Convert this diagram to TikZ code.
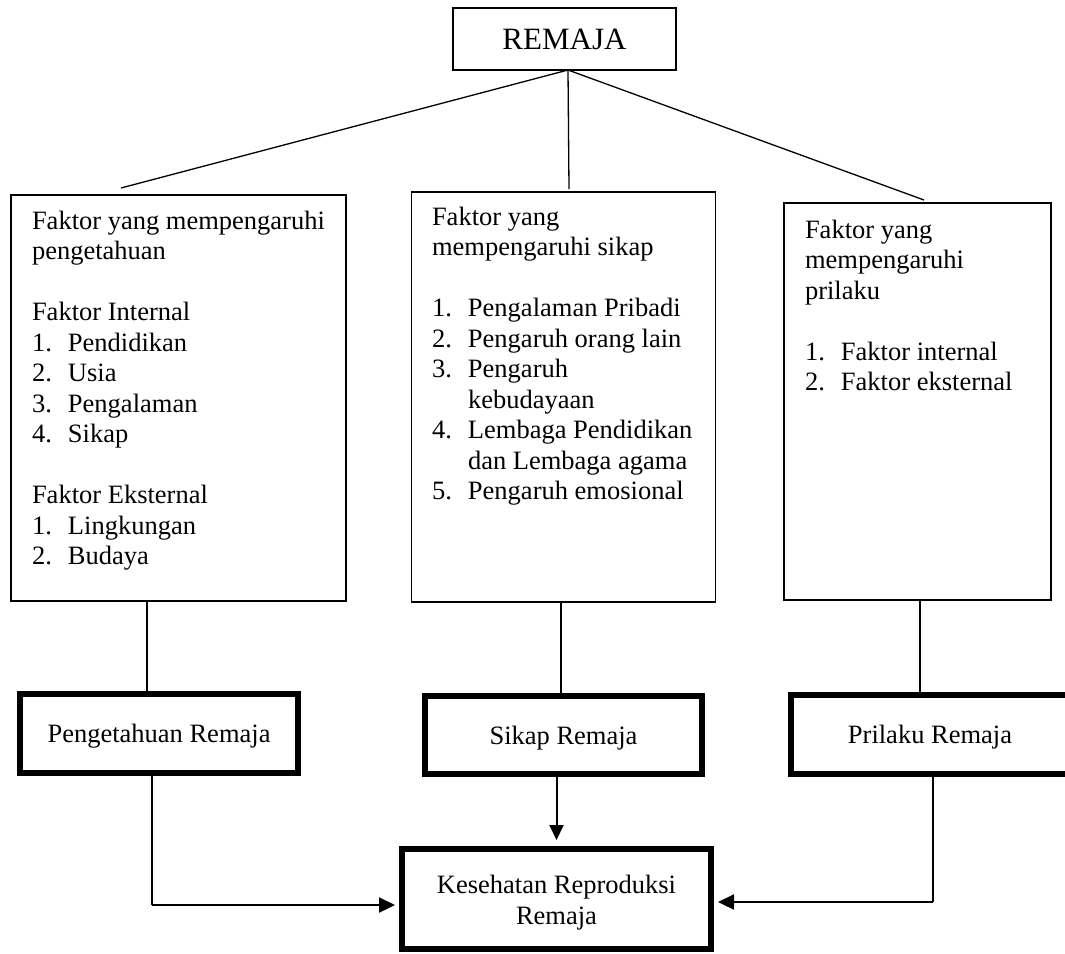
\documentclass[tikz,border=0pt]{standalone}
\usepackage{fontspec}
\setmainfont{Liberation Serif}
\usetikzlibrary{arrows.meta,calc}
\newcommand\itm[2]{\makebox[36pt][l]{#1}#2}
\begin{document}
\begin{tikzpicture}[x=1pt,y=-1pt,
  thinbox/.style={draw, line width=1.8pt, inner sep=0pt, outer sep=0pt},
  thickbox/.style={draw, line width=6pt, inner sep=0pt, outer sep=0pt,
    font=\fontsize{26.5}{30.5}\selectfont, text depth=0pt},
  body/.style={inner sep=0pt, outer sep=0pt, anchor=base west,
    font=\fontsize{26.5}{30.5}\selectfont},
  link/.style={line width=1.3pt},
  arr/.style={line width=2.3pt, -{Triangle[length=16pt,width=15pt]}}]
\fill[white] (0,0) rectangle (1065,953);
\clip (0,0) rectangle (1065,953);

% top node
\node[thinbox, minimum width=223pt, minimum height=62pt,
  font=\fontsize{31}{36}\selectfont, text depth=0pt] (rm) at (564.5,39) {REMAJA};

% factor boxes
\node[thinbox, minimum width=335pt, minimum height=406pt] (b1) at (178.5,398) {};
\node[thinbox, minimum width=304pt, minimum height=410pt] (b2) at (563.5,397) {};
\node[thinbox, minimum width=267pt, minimum height=397pt] (b3) at (917.5,401.5) {};

\node[body] (t1) at (32,229) {\parbox[t]{310pt}{\raggedright
Faktor yang mempengaruhi\\
pengetahuan\\
\mbox{}\\
Faktor Internal\\
\itm{1.}{Pendidikan}\\
\itm{2.}{Usia}\\
\itm{3.}{Pengalaman}\\
\itm{4.}{Sikap}\\
\mbox{}\\
Faktor Eksternal\\
\itm{1.}{Lingkungan}\\
\itm{2.}{Budaya}}};

\node[body] (t2) at (432,225) {\parbox[t]{280pt}{\raggedright
Faktor yang\\
mempengaruhi sikap\\
\mbox{}\\
\itm{1.}{Pengalaman Pribadi}\\
\itm{2.}{Pengaruh orang lain}\\
\itm{3.}{Pengaruh}\\
\hspace*{36pt}kebudayaan\\
\itm{4.}{Lembaga Pendidikan}\\
\hspace*{36pt}dan Lembaga agama\\
\itm{5.}{Pengaruh emosional}}};

\node[body] (t3) at (805,238) {\parbox[t]{240pt}{\raggedright
Faktor yang\\
mempengaruhi\\
prilaku\\
\mbox{}\\
\itm{1.}{Faktor internal}\\
\itm{2.}{Faktor eksternal}}};

% thick boxes
\node[thickbox, minimum width=278pt, minimum height=79pt] (pk) at (159,733.5) {Pengetahuan Remaja};
\node[thickbox, minimum width=277pt, minimum height=78pt] (sk) at (563.5,735) {Sikap Remaja};
\node[thickbox, minimum width=278pt, minimum height=79pt] (pr) at (930,734.5) {Prilaku Remaja};
\node[thickbox, minimum width=309pt, minimum height=100pt] (ks) at (556.5,899) {};
\node[inner sep=0pt, align=center, font=\fontsize{26.5}{31}\selectfont]
  (kst) at ($(ks.center)+(0,4)$) {Kesehatan Reproduksi\\Remaja};

% connectors from REMAJA
\coordinate (e1) at (121,188);
\coordinate (e2) at (569,189);
\coordinate (e3) at (924,200);
\coordinate (rj) at ($(rm.south)+(3.5,0)$);
\draw[link] (rj) -- (e1);
\draw[link] (rj) -- (e2);
\draw[link] (rj) -- (e3);

% factor boxes to result boxes
\coordinate (v1) at (147,0);
\coordinate (v2) at (561,0);
\coordinate (v3) at (920,0);
\draw[link] (b1.south -| v1) -- (pk.north -| v1);
\draw[link] (b2.south -| v2) -- (sk.north -| v2);
\draw[link] (b3.south -| v3) -- (pr.north -| v3);

% arrows to Kesehatan
\draw[line width=2pt, -{Triangle[length=15pt,width=14pt]}, shorten >=9pt]
  (sk.south -| ks.north) -- (ks.north);
\coordinate (lc) at (152,905);
\coordinate (rc) at (933,902);
\draw[link] (pk.south -| lc) -- (lc);
\draw[arr, shorten >=7pt] (lc) -- (ks.west |- lc);
\draw[link] (pr.south -| rc) -- (rc);
\draw[arr, shorten >=7pt] (rc) -- (ks.east |- rc);
\end{tikzpicture}
\end{document}
